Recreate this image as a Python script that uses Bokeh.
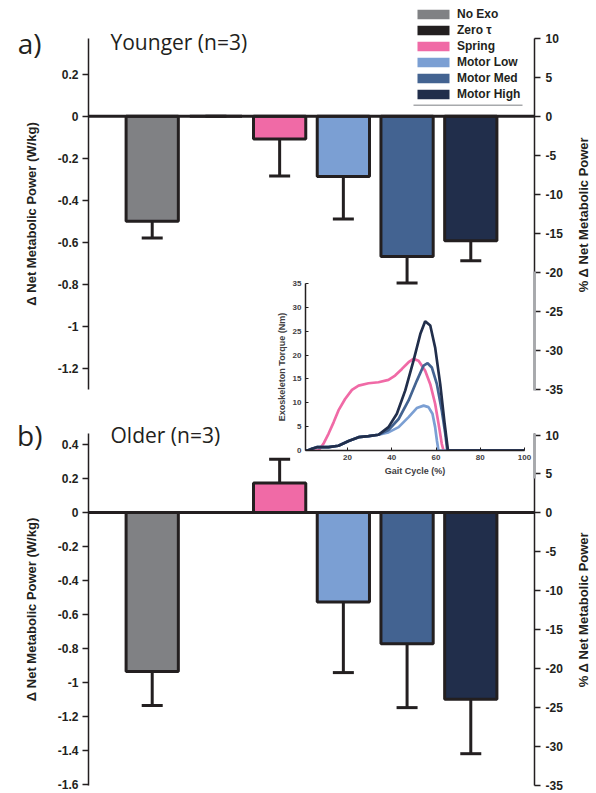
import math
from bokeh.plotting import figure
from bokeh.models import (Range1d, LinearAxis, FixedTicker, Span, Label,
                          Legend, LegendItem, BoxAnnotation)
from bokeh.embed import file_html
from bokeh.resources import INLINE

# ---------------- data ----------------
CONDITIONS = ["No Exo", "Zero τ", "Spring", "Motor Low", "Motor Med", "Motor High"]
COLORS = ["#808184", "#231f20", "#f06aa6", "#7b9fd3", "#436391", "#212e4b"]

YOUNG_MEAN = [-0.500, 0.000, -0.108, -0.287, -0.667, -0.592]
YOUNG_ERR = [0.079, 0.000, 0.176, 0.202, 0.126, 0.095]
OLD_MEAN = [-0.934, 0.000, 0.174, -0.526, -0.771, -1.098]
OLD_ERR = [0.201, 0.000, 0.139, 0.415, 0.376, 0.320]

YOUNG_TICKS = [-1.2, -1.0, -0.8, -0.6, -0.4, -0.2, 0.0, 0.2]
YOUNG_TICK_LABELS = ["-1.2", "-1", "-0.8", "-0.6", "-0.4", "-0.2", "0", "0.2"]
OLD_TICKS = [-1.6, -1.4, -1.2, -1.0, -0.8, -0.6, -0.4, -0.2, 0.0, 0.2, 0.4]
OLD_TICK_LABELS = ["-1.6", "-1.4", "-1.2", "-1", "-0.8", "-0.6", "-0.4", "-0.2", "0", "0.2", "0.4"]
PCT_TICKS = [-35, -30, -25, -20, -15, -10, -5, 0, 5, 10]
PCT_TICK_LABELS = ["-35", "-30", "-25", "-20", "-15", "-10", "-5", "0", "5", "10"]

# inset: exoskeleton torque (Nm) vs gait cycle (%)
SPRING_X = [1, 6.9, 9.1, 11.4, 13.7, 15.9, 18.9, 22.0, 25.0, 29.5, 34.0, 38.5, 41.5,
            44.6, 47.6, 49.8, 52.1, 55.1, 57.4, 59.6, 61.4, 62.6, 63.4, 100]
SPRING_Y = [0, 0, 1.4, 3.5, 5.9, 8.4, 10.8, 12.7, 13.6, 14.1, 14.3, 14.8, 15.7,
            17.1, 18.5, 19.2, 18.8, 16.7, 13.9, 9.8, 4.9, 1.4, 0, 0]
LOW_X = [1, 2.0, 3.9, 6.1, 11.4, 15.9, 20.5, 25.0, 29.5, 34.0, 38.5, 43.1, 47.6,
         51.3, 54.4, 56.6, 58.4, 59.6, 60.4, 61.1, 100]
LOW_Y = [0, 0, 0.35, 0.7, 0.7, 1.0, 2.0, 2.8, 3.0, 3.3, 3.8, 4.9, 7.0,
         8.9, 9.4, 9.1, 7.7, 4.9, 2.1, 0, 0]
MED_X = [1, 2.0, 3.9, 6.1, 11.4, 15.9, 20.5, 25.0, 29.5, 34.0, 38.5, 43.1, 47.6,
         51.3, 54.4, 56.2, 58.1, 60.4, 62.6, 64.2, 65.1, 100]
MED_Y = [0, 0, 0.35, 0.7, 0.7, 1.0, 2.0, 2.8, 3.0, 3.3, 4.3, 6.6, 10.5,
         14.6, 17.8, 18.3, 17.4, 13.9, 8.4, 3.5, 0, 0]
HIGH_X = [1, 2.0, 3.9, 6.1, 11.4, 15.9, 20.5, 25.0, 29.5, 34.0, 38.5, 42.3, 46.1,
          49.8, 52.9, 55.1, 57.4, 59.6, 61.9, 63.9, 65.4, 100]
HIGH_Y = [0, 0, 0.35, 0.7, 0.7, 1.0, 2.0, 2.8, 3.0, 3.3, 4.9, 7.7, 12.6,
          18.8, 24.4, 27.1, 26.2, 21.6, 13.9, 5.6, 0, 0]
INSET_X_TICKS = [20, 40, 60, 80, 100]
INSET_Y_TICKS = [0, 5, 10, 15, 20, 25, 30, 35]

INK = "#231f20"
FONT = "Liberation Sans"
TITLE_FONT = "Open Sans"
PAGE_W, PAGE_H = 596, 793
NAN = float("nan")
LEFT_LABEL = "Δ Net Metabolic Power (W/kg)"
RIGHT_LABEL = "% Δ Net Metabolic Power"


def at(left, top):
    return {"position": "absolute", "left": f"{left}px", "top": f"{top}px"}


def style_axis(ax, ticks, labels, label_text=None, standoff=16):
    ax.ticker = FixedTicker(ticks=ticks)
    ax.major_label_overrides = {t: l for t, l in zip(ticks, labels)}
    ax.minor_tick_line_color = None
    ax.major_tick_in = 0
    ax.major_tick_out = 6
    ax.major_tick_line_width = 1.5
    ax.major_tick_line_color = INK
    ax.axis_line_width = 1.5
    ax.axis_line_color = INK
    ax.major_label_text_font = FONT
    ax.major_label_text_font_style = "bold"
    ax.major_label_text_font_size = "12px"
    ax.major_label_text_color = INK
    ax.major_label_standoff = 4
    if label_text:
        ax.axis_label = label_text
        ax.axis_label_text_font = FONT
        ax.axis_label_text_font_style = "bold"
        ax.axis_label_text_font_size = "13px"
        ax.axis_label_text_color = INK
        ax.axis_label_standoff = standoff


def make_panel(means, errs, yr, ticks, tick_labels, pct_range, height, bt, bb, top_px):
    p = figure(width=PAGE_W, height=height, x_range=Range1d(0, 7), y_range=Range1d(*yr),
               output_backend="svg", toolbar_location=None, x_axis_location=None,
               min_border_left=88, min_border_right=62, min_border_top=bt,
               min_border_bottom=bb, outline_line_color=None,
               background_fill_color=None, border_fill_color=None,
               styles=at(0, top_px))
    p.xgrid.visible = False
    p.ygrid.visible = False
    style_axis(p.yaxis[0], ticks, tick_labels, LEFT_LABEL)
    p.extra_y_ranges = {"pct": Range1d(*pct_range)}
    rax = LinearAxis(y_range_name="pct")
    style_axis(rax, PCT_TICKS, PCT_TICK_LABELS)
    rax.major_label_standoff = 5
    p.add_layout(rax, "right")

    xs = list(range(1, len(CONDITIONS) + 1))
    ends = [m + (1 if m > 0 else -1) * e for m, e in zip(means, errs)]
    p.segment(x0=xs, y0=means, x1=xs, y1=ends, line_color=INK, line_width=3)
    p.scatter(x=xs, y=ends, marker="dash", size=21, line_color=INK, line_width=3)
    p.vbar(x=xs, top=means, bottom=0, width=0.82, fill_color=COLORS,
           line_color=INK, line_width=3)
    p.add_layout(Span(location=0, dimension="width", line_color=INK, line_width=3))
    return p


# ---------------- panels ----------------
top = make_panel(YOUNG_MEAN, YOUNG_ERR, (-1.30, 0.37), YOUNG_TICKS, YOUNG_TICK_LABELS,
                 (-35, 10), 389, 30, 8, 8)
bot = make_panel(OLD_MEAN, OLD_ERR, (-1.605, 0.465), OLD_TICKS, OLD_TICK_LABELS,
                 (-35, 10.2), 393, 33, 8, 400)

# ---------------- inset: torque profiles ----------------
ins = figure(width=259, height=203, x_range=Range1d(1, 100), y_range=Range1d(0, 35),
             output_backend="svg", toolbar_location=None,
             min_border_left=30, min_border_right=8, min_border_top=6,
             min_border_bottom=30, outline_line_color=None,
             background_fill_color=None, border_fill_color=None,
             styles=at(273, 277))
ins.xgrid.visible = False
ins.ygrid.visible = False
for ax, ticks, lab in ((ins.xaxis[0], INSET_X_TICKS, "Gait Cycle (%)"),
                       (ins.yaxis[0], INSET_Y_TICKS, "Exoskeleton Torque (Nm)")):
    ax.ticker = FixedTicker(ticks=ticks)
    ax.minor_tick_line_color = None
    ax.major_tick_in = 3
    ax.major_tick_out = 0
    ax.major_tick_line_color = INK
    ax.axis_line_color = INK
    ax.axis_line_width = 1.5
    ax.major_label_text_font = FONT
    ax.major_label_text_font_style = "bold"
    ax.major_label_text_font_size = "8px"
    ax.major_label_text_color = "#414042"
    ax.major_label_standoff = 4
    ax.axis_label = lab
    ax.axis_label_text_font = FONT
    ax.axis_label_text_font_style = "bold"
    ax.axis_label_text_font_size = "9px"
    ax.axis_label_text_color = "#414042"
    ax.axis_label_standoff = 3

ins.line(SPRING_X, SPRING_Y, line_color=COLORS[2], line_width=2.7)
ins.line(LOW_X, LOW_Y, line_color=COLORS[3], line_width=2.7)
ins.line(MED_X, MED_Y, line_color=COLORS[4], line_width=2.7)
ins.line(HIGH_X, HIGH_Y, line_color=COLORS[5], line_width=2.7)

# ---------------- overlay: titles, right-axis labels, legend ----------------
ov = figure(width=PAGE_W, height=PAGE_H, x_range=Range1d(0, PAGE_W),
            y_range=Range1d(PAGE_H, 0), output_backend="svg", toolbar_location=None,
            x_axis_location=None, y_axis_location=None, min_border=0,
            outline_line_color=None, background_fill_color=None,
            border_fill_color=None, styles=at(0, 0))
ov.grid.visible = False
for txt, x, y in (("Younger (n=3)", 110, 41), ("Older (n=3)", 110, 434)):
    ov.add_layout(Label(x=x, y=y, text=txt, text_font=TITLE_FONT, text_font_size="21px",
                        text_color=INK, text_baseline="middle"))
for txt, x, y in (("a)", 41, 42), ("b)", 42, 434)):
    ov.add_layout(Label(x=x, y=y, text=txt, text_font=TITLE_FONT, text_font_size="28px",
                        text_color=INK, text_baseline="middle", text_align="right"))
for y in (214, 609):
    ov.add_layout(Label(x=583, y=y, text=RIGHT_LABEL, angle=math.pi / 2,
                        text_font=FONT, text_font_style="bold", text_font_size="13px",
                        text_color=INK, text_align="center", text_baseline="middle"))

# faded stretches of the right axes where the inset picture overlaps them
for y0, y1 in ((271, 390), (433, 478)):
    ov.add_layout(BoxAnnotation(left=532.6, right=535.4, top=y0, bottom=y1,
                                fill_color="#a7a9ac", fill_alpha=1, line_color=None))

# legend proxies: one NaN point each (nothing drawn in the plot, swatch in legend)
items = []
for name, col in zip(CONDITIONS, COLORS):
    r = ov.vbar(x=[NAN], top=[NAN], bottom=[NAN], width=1, fill_color=col,
                line_color=None)
    items.append(LegendItem(label=name, renderers=[r]))
legend = Legend(items=items, location=(413, 692), glyph_width=40, glyph_height=12,
                label_height=12, spacing=2, padding=0, margin=0, label_standoff=4,
                label_text_font=FONT, label_text_font_style="bold",
                label_text_font_size="12px", label_text_color=INK,
                border_line_color=None, background_fill_alpha=0)
ov.add_layout(legend, "center")
ov.add_layout(BoxAnnotation(left=413, right=522, top=104, bottom=105.5,
                            fill_color="#a7a9ac", fill_alpha=1, line_color=None))

open("out.html", "w").write(file_html([top, bot, ins, ov], INLINE))
